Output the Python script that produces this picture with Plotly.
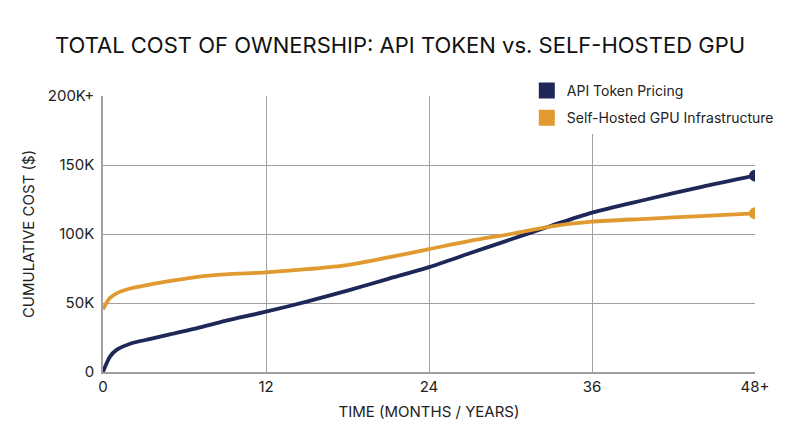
import plotly.graph_objects as go

NAVY = "#1d2858"
ORANGE = "#e09a30"
GRID = "#a0a0a0"
FONT = "Inter, Roboto, sans-serif"

# months since start
months = [0, 0.25, 0.5, 1, 2, 3.5, 5, 7, 9, 12, 15, 18, 21, 24, 27, 30, 33, 36, 40, 44, 48]

# cumulative cost, thousands of dollars
api_cost = [0, 6, 11, 16, 20.5, 24, 27.5, 32, 37, 43.7, 51, 59, 67.5, 76, 86, 96, 106,
            115.5, 125, 134, 142.3]
gpu_cost = [45.4, 50, 53.5, 57, 60.5, 63.5, 66, 69, 70.7, 72.2, 74.5, 77.5, 83, 89, 95,
            100, 105.5, 108.9, 111, 113, 115]

x_ticks = [0, 12, 24, 36, 48]
x_labels = ["0", "12", "24", "36", "48+"]
y_ticks = [0, 50, 100, 150, 200]
y_labels = ["0", "50K", "100K", "150K", "200K+"]

SERIES = [
    ("API Token Pricing", api_cost, NAVY),
    ("Self-Hosted GPU Infrastructure", gpu_cost, ORANGE),
]

fig = go.Figure()

for label, values, color in SERIES:
    fig.add_trace(go.Scatter(
        x=months, y=values, mode="lines",
        line=dict(color=color, width=3.8, shape="spline", smoothing=0.8),
        showlegend=False, hoverinfo="skip",
    ))
    # end-point dot
    fig.add_trace(go.Scatter(
        x=months[-1:], y=values[-1:], mode="markers",
        marker=dict(color=color, size=12),
        showlegend=False, hoverinfo="skip",
    ))

# legend entries drawn as squares
for label, values, color in SERIES:
    fig.add_trace(go.Scatter(
        x=[None], y=[None], mode="markers", name=label, legendgroup=label,
        marker=dict(color=color, size=17, symbol="square"),
    ))

# page body adds an 8px offset, margins are compensated for it
fig.update_layout(
    width=800, height=447,
    title=dict(
        text="TOTAL COST OF OWNERSHIP: API TOKEN vs. SELF-HOSTED GPU",
        font=dict(family=FONT, size=22, color="#111111"),
        x=0.49, xanchor="center", y=0.917, yanchor="middle",
    ),
    font=dict(family=FONT, size=14, color="#222222"),
    margin=dict(l=95, r=53, t=88, b=83),
    paper_bgcolor="white",
    plot_bgcolor="white",
    legend=dict(
        x=0.65, y=1.076, xanchor="left", yanchor="top",
        bgcolor="white", font=dict(family=FONT, size=14, color="#222222"),
        itemwidth=30, tracegroupgap=6,
    ),
)

fig.update_xaxes(
    range=[0, 48], tickvals=x_ticks, ticktext=x_labels,
    showgrid=True, gridcolor=GRID, gridwidth=1,
    showline=True, linecolor=GRID, linewidth=1.5, zeroline=False,
    ticks="", tickfont=dict(size=15), automargin=False,
    title=dict(text="TIME (MONTHS / YEARS)", font=dict(size=15), standoff=12),
)
fig.update_yaxes(
    range=[0, 200], tickvals=y_ticks, ticktext=y_labels,
    showgrid=True, gridcolor=GRID, gridwidth=1,
    showline=True, linecolor=GRID, linewidth=1.5, zeroline=False,
    ticks="", tickfont=dict(size=15), automargin=False, ticklabelstandoff=4,
    title=dict(text="CUMULATIVE COST ($)", font=dict(size=15), standoff=10),
)

fig.write_html("out.html")
